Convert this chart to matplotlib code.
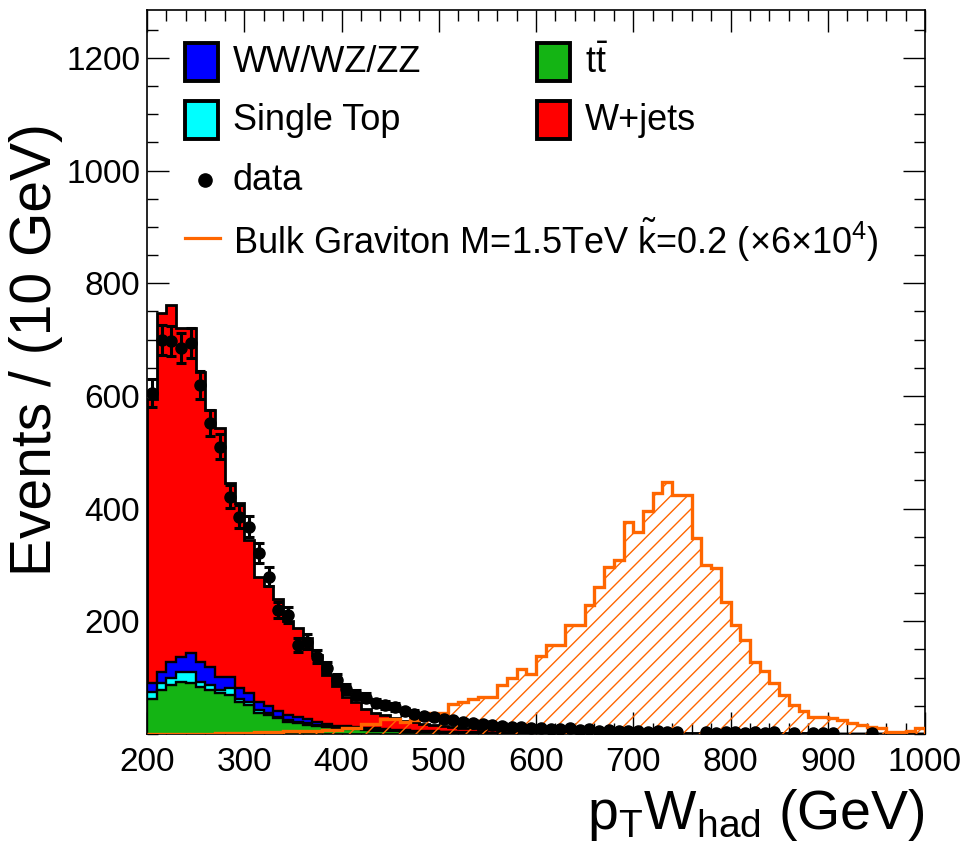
import numpy as np
import matplotlib
matplotlib.use('Agg')
import matplotlib.pyplot as plt
from matplotlib.patches import Rectangle
from matplotlib.lines import Line2D
from matplotlib.ticker import MultipleLocator, FixedLocator

plt.rcParams['font.family'] = ['Liberation Sans', 'DejaVu Sans']
plt.rcParams['mathtext.fontset'] = 'custom'
plt.rcParams['mathtext.rm'] = 'Liberation Sans'
plt.rcParams['mathtext.it'] = 'Liberation Sans:italic'
plt.rcParams['mathtext.bf'] = 'Liberation Sans:bold'
plt.rcParams['hatch.linewidth'] = 1.0

nan = np.nan
x_min, x_max, bin_width = 200, 1000, 10

ttbar = [63, 78, 87, 93, 90, 84, 78, 72, 69, 57, 51, 37, 34, 28, 22, 19, 16, 14, 12, 10,
         9, 8, 7, 6, 5, 4.5, 4, 3.5, 3, 2.8, 2.5, 2.2, 2, 1.8, 1.6, 1.5, 1.3, 1.2, 1.1, 1.0,
         0.9, 0.9, 0.8, 0.8, 0.7, 0.7, 0.6, 0.6, 0.5, 0.5, 0.5, 0.4, 0.4, 0.4, 0.3, 0.3, 0.3, 0.3, 0.2, 0.2,
         0.2, 0.2, 0.2, 0.2, 0.1, 0.1, 0.1, 0.1, 0.1, 0.1, 0.1, 0.1, 0.1, 0.1, 0.1, 0.1, 0.1, 0.1, 0.1, 0.1]
single_top = [12, 12, 12, 17, 20, 9, 9, 6, 12, 6, 6, 5, 4, 3, 3, 3, 3, 2, 2, 2,
              2, 2, 1.5, 1.5, 1.2, 1, 1, 0.8, 0.7, 0.6, 0.5, 0.5, 0.4, 0.4, 0.3, 0.3, 0.3, 0.2, 0.2, 0.2,
              0.1, 0.1, 0.1, 0.1, 0.1, 0.1, 0.1, 0.1, 0.1, 0.1, 0.1, 0.1, 0.1, 0.1, 0.1, 0.1, 0.1, 0.1, 0.1, 0.1,
              0.05, 0.05, 0.05, 0.05, 0.05, 0.05, 0.05, 0.05, 0.05, 0.05,
              0.05, 0.05, 0.05, 0.05, 0.05, 0.05, 0.05, 0.05, 0.05, 0.05]
diboson = [15, 20, 29, 27, 34, 34, 32, 24, 21, 18, 15, 15, 11, 9, 9, 8, 7, 6, 4, 3,
           3, 3, 2.5, 2.5, 2, 2, 1.8, 1.6, 1.4, 1.2, 1.1, 1, 0.9, 0.8, 0.8, 0.7, 0.6, 0.6, 0.5, 0.5,
           0.5, 0.5, 0.4, 0.4, 0.4, 0.4, 0.3, 0.3, 0.3, 0.3, 0.3, 0.3, 0.2, 0.2, 0.2, 0.2, 0.2, 0.2, 0.2, 0.2,
           0.1, 0.1, 0.1, 0.1, 0.1, 0.1, 0.1, 0.1, 0.1, 0.1, 0.1, 0.1, 0.1, 0.1, 0.1, 0.1, 0.1, 0.1, 0.1, 0.1]
wjets = [505, 637, 633, 583, 576, 516, 456, 441, 343, 329, 273, 222, 213, 200, 166, 158, 144, 118, 87, 70,
         51, 43, 34, 28, 25, 20.5, 17, 15, 13, 11.5, 10, 8.5, 7.5, 7, 6.3, 5.5, 5.3, 5, 4.7, 4.3,
         4, 3.8, 3.5, 3.3, 3.1, 2.9, 2.7, 2.5, 2.4, 2.2, 2.1, 2.0, 1.9, 1.8, 1.7, 1.6, 1.5, 1.4, 1.3, 1.2,
         1.2, 1.1, 1.0, 1.0, 0.9, 0.9, 0.8, 0.8, 0.7, 0.7, 0.7, 0.6, 0.6, 0.6, 0.5, 0.5, 0.5, 0.4, 0.4, 0.4]
data = [605, 700, 697, 685, 694, 620, 552, 510, 421, 386, 368, 321, 279, 220, 211, 158, 164, 137, 117, 96,
        80, 70, 64, 55, 52, 48, 40, 36, 32, 30, 27, 24, 22, 20, 18, 16, 15, 13, 12, 11,
        10, 9, 8, 10, 7, 8, 6, 7, 5, 6, 5, 4, 5, 3, 4, nan, nan, 3, 2, 4,
        3, 2, 3, 2, 3, nan, 2, nan, 2, 1, 2, nan, nan, nan, 1, nan, nan, nan, nan, nan]
signal = [0, 0, 0, 0, 0, 0.5, 0.5, 1, 1, 2, 2, 3, 3, 3, 5, 5, 5, 5, 7, 7,
          11, 11, 18, 18, 26, 26, 22, 24, 28, 38, 38, 54, 57, 63, 66, 66, 87, 99, 115, 106,
          138, 158, 158, 193, 193, 229, 261, 296, 309, 377, 359, 396, 427, 448, 424, 424, 347, 300, 294, 235,
          193, 167, 128, 111, 90, 69, 51, 40, 31, 31, 28, 25, 19, 16, 13, 10, 4, 4, 6, 11]

labels = ['WW/WZ/ZZ', r'$\mathregular{t\bar{t}}$', 'Single Top', 'W+jets']
c_green, c_cyan, c_blue, c_red = '#14b414', '#00ffff', '#0000ff', '#ff0000'
c_orange = '#ff6600'

edges = np.arange(x_min, x_max + bin_width, bin_width)
centers = 0.5 * (edges[:-1] + edges[1:])

W, H = 965, 847
fig = plt.figure(figsize=(W / 100, H / 100), dpi=100)
ax = fig.add_axes([147 / W, 1 - 734 / H, 778 / W, 724 / H])

def fx(px):
    return px / W

def fy(py):
    return 1 - py / H

stack = np.cumsum(np.array([ttbar, single_top, diboson, wjets], dtype=float), axis=0)
stack_colors = [c_green, c_cyan, c_blue, c_red]
for k in reversed(range(4)):
    ax.stairs(stack[k], edges, baseline=0, fill=True, facecolor=stack_colors[k],
              edgecolor='black', linewidth=2.0 if k == 3 else 1.7, zorder=2)

sig = np.array(signal, dtype=float)
ax.stairs(sig, edges, baseline=0, fill=True, facecolor='none', edgecolor=c_orange,
          hatch='//', linewidth=0, zorder=3)
ax.stairs(sig, edges, baseline=0, fill=False, edgecolor=c_orange, linewidth=2.4, zorder=3)

d = np.array(data, dtype=float)
ax.errorbar(centers, d, yerr=np.sqrt(d), fmt='o', color='black', markersize=8,
            elinewidth=2.2, capsize=3.5, capthick=2.2, zorder=5, clip_on=True)

ax.set_xlim(x_min, x_max)
ax.set_ylim(0, 1285)
ax.xaxis.set_major_locator(MultipleLocator(100))
ax.xaxis.set_minor_locator(MultipleLocator(20))
ax.yaxis.set_major_locator(FixedLocator([200, 400, 600, 800, 1000, 1200]))
ax.yaxis.set_minor_locator(MultipleLocator(50))
ax.tick_params(which='both', direction='in', top=True, right=True, width=1.0, labelsize=24)
ax.tick_params(which='major', length=16)
ax.tick_params(which='minor', length=8)
ax.tick_params(axis='y', pad=5)
ax.tick_params(axis='x', pad=9)
for s in ax.spines.values():
    s.set_linewidth(1.2)

fig.text(fx(925), fy(815), r'p$_{\mathregular{T}}$W$_{\mathregular{had}}$ (GeV)',
         ha='right', va='center', fontsize=40)
fig.text(fx(36), fy(350), 'Events / (10 GeV)', rotation=90, ha='center', va='center', fontsize=41)

# legend
leg_fs = 26
boxes = [(185, 43, c_blue, labels[0]), (537, 43, c_green, labels[1]),
         (185, 101, c_cyan, labels[2]), (537, 101, c_red, labels[3])]
for bx, by, col, lab in boxes:
    r = Rectangle((fx(bx), fy(by + 38)), 33 / W, 38 / H, transform=fig.transFigure,
                  facecolor=col, edgecolor='black', linewidth=2.8, zorder=10)
    fig.add_artist(r)
    fig.text(fx(bx + 48), fy(by + 20), lab, ha='left', va='center', fontsize=leg_fs, zorder=10)

fig.add_artist(Line2D([fx(205)], [fy(180)], marker='o', color='black', markersize=9.5,
                      transform=fig.transFigure, zorder=10))
fig.text(fx(233), fy(181), 'data', ha='left', va='center', fontsize=leg_fs)
fig.add_artist(Line2D([fx(185), fx(220)], [fy(238), fy(238)], color=c_orange, linewidth=2.3,
                      transform=fig.transFigure, zorder=10))
fig.text(fx(233), fy(240),
         r'Bulk Graviton M=1.5TeV $\tilde{\mathregular{k}}$=0.2 ($\times$6$\times$10$^{\mathregular{4}}$)',
         ha='left', va='center', fontsize=leg_fs)

fig.savefig('out.png', dpi=100)
